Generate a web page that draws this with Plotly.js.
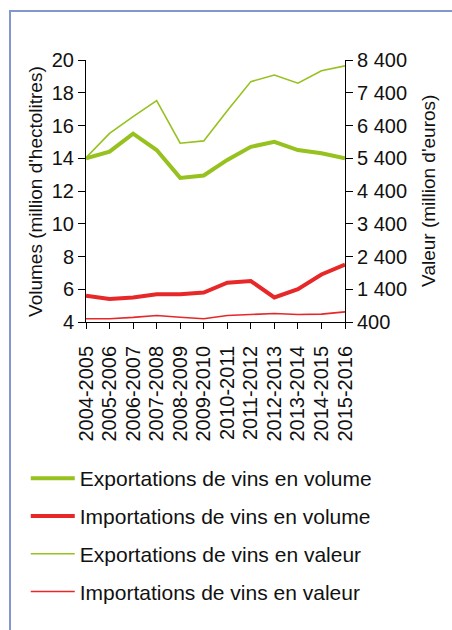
<!DOCTYPE html>
<html>
<head>
<meta charset="utf-8">
<script src="https://cdn.plot.ly/plotly-3.0.1.min.js"></script>
<style>
  body { margin: 0; background: #fff; }
  #chart { position: absolute; left: 0; top: 0; width: 452px; height: 630px; }
  /* blue frame round the figure, cut by the page edge */
  #frame { position: absolute; left: 9px; top: 10px; width: 460px; height: 640px;
           border-left: 2px solid #8297cc; border-top: 2px solid #8297cc; pointer-events: none; }
</style>
</head>
<body>
<div id="chart"></div>
<div id="frame"></div>
<script>
// seasons on the x axis
const seasons = ["2004-2005", "2005-2006", "2006-2007", "2007-2008", "2008-2009", "2009-2010",
                 "2010-2011", "2011-2012", "2012-2013", "2013-2014", "2014-2015", "2015-2016"];

// volumes, million hectolitres (left axis)
const exportVolume = [14.0, 14.4, 15.5, 14.5, 12.8, 12.95, 13.9, 14.7, 15.0, 14.5, 14.3, 14.0];
const importVolume = [5.6, 5.4, 5.5, 5.7, 5.7, 5.8, 6.4, 6.5, 5.5, 6.0, 6.9, 7.5];

// values, million euros (right axis)
const exportValue = [5420, 6160, 6670, 7160, 5860, 5930, 6850, 7740, 7940, 7690, 8070, 8220];
const importValue = [500, 500, 540, 600, 545, 500, 600, 630, 660, 630, 640, 710];

// right axis ticks, with the french thousands space
const valueTicks = [400, 1400, 2400, 3400, 4400, 5400, 6400, 7400, 8400];
const valueTickText = ["400", "1 400", "2 400", "3 400", "4 400", "5 400", "6 400", "7 400", "8 400"];

const green = 'rgb(150, 193, 31)';
const red = 'rgb(230, 40, 40)';

const traces = [
    {x: seasons, y: exportVolume, yaxis: 'y', type: 'scatter', mode: 'lines',
     line: {color: green, width: 4}, name: "Exportations de vins en volume", legendgroup: 'a'},
    {x: seasons, y: importVolume, yaxis: 'y', type: 'scatter', mode: 'lines',
     line: {color: red, width: 4}, name: "Importations de vins en volume", legendgroup: 'b'},
    {x: seasons, y: exportValue, yaxis: 'y2', type: 'scatter', mode: 'lines',
     line: {color: green, width: 1.6}, name: "Exportations de vins en valeur", legendgroup: 'c'},
    {x: seasons, y: importValue, yaxis: 'y2', type: 'scatter', mode: 'lines',
     line: {color: red, width: 1.6}, name: "Importations de vins en valeur", legendgroup: 'd'}
];

// axis titles as rotated annotations: the left axis title got drawn on the
// wrong side when given as yaxis.title together with an overlaying y2
const annotations = [
    {text: "Volumes (million d'hectolitres)", xref: 'paper', yref: 'paper',
     x: -0.197, y: 0.5, xanchor: 'center', yanchor: 'middle',
     textangle: -90, showarrow: false, font: {size: 19}},
    {text: "Valeur (million d'euros)", xref: 'paper', yref: 'paper',
     x: 1.32, y: 0.5, xanchor: 'center', yanchor: 'middle',
     textangle: -90, showarrow: false, font: {size: 19}}
];

const layout = {
    width: 452, height: 630,
    margin: {l: 86, r: 107, t: 60, b: 308, autoexpand: false},
    paper_bgcolor: 'white', plot_bgcolor: 'white',
    font: {family: 'Liberation Sans', size: 20, color: '#111'},
    showlegend: true,
    legend: {xref: 'container', yref: 'container', x: 0.057, y: 0.273,
             xanchor: 'left', yanchor: 'top', itemwidth: 44,
             font: {size: 21}, tracegroupgap: 7.5, bgcolor: 'rgba(0,0,0,0)'},
    annotations: annotations,
    xaxis: {type: 'category', range: [0, 11], dtick: 1, showgrid: false, zeroline: false,
            showline: true, linecolor: 'black', linewidth: 1,
            ticks: 'outside', ticklen: 6, tickcolor: 'black',
            tickangle: -90, tickfont: {size: 20}, ticksuffix: '\u00a0\u2006'},
    yaxis: {range: [4, 20], dtick: 2, showgrid: false, zeroline: false,
            showline: true, linecolor: 'black', linewidth: 1,
            ticks: 'outside', ticklen: 7, tickcolor: 'black', tickfont: {size: 20}},
    yaxis2: {range: [400, 8400], tickvals: valueTicks, ticktext: valueTickText,
             overlaying: 'y', side: 'right', showgrid: false, zeroline: false,
             showline: true, linecolor: 'black', linewidth: 1,
             ticks: 'outside', ticklen: 7, tickcolor: 'black', tickfont: {size: 20}}
};

Plotly.newPlot('chart', traces, layout, {staticPlot: true});
</script>
</body>
</html>
